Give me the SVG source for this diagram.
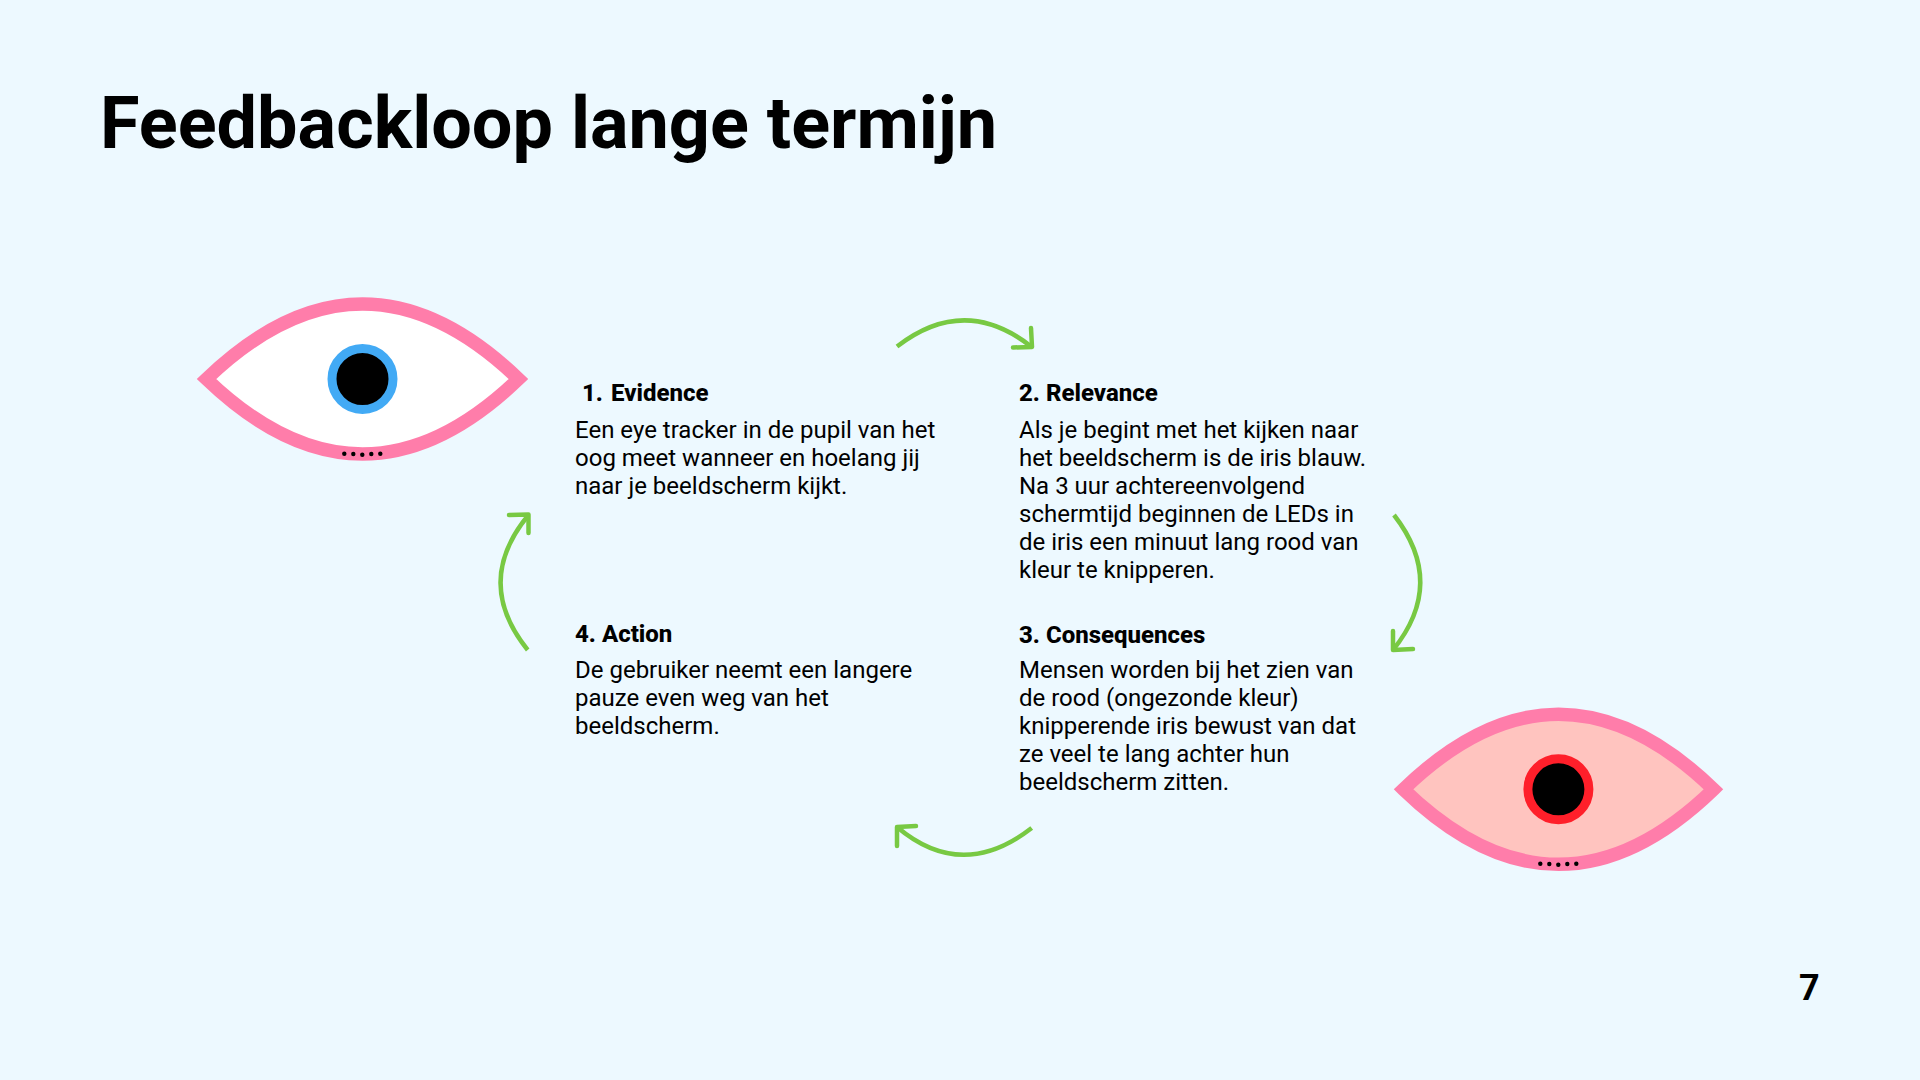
<svg xmlns="http://www.w3.org/2000/svg" width="1920" height="1080" viewBox="0 0 1920 1080">
<style>
text{font-family:Roboto,"Liberation Sans",sans-serif;fill:#000}
.t{font-size:72px;font-weight:700}
.h{font-size:24px;font-weight:800}
.b{font-size:24px}
.n{font-size:36px;font-weight:700}
.lid{stroke:#ff7daa;stroke-width:13.500;stroke-miterlimit:10}
.pupil{fill:#000;stroke-width:9}
.a{fill:none;stroke:#78c943;stroke-width:4.500;stroke-linejoin:round}
.h1{stroke-linecap:round}
</style>
<rect width="1920" height="1080" fill="#edf9ff"/>
<text class="t" x="100" y="147.500" textLength="897">Feedbackloop lange termijn</text>
<g id="eye-1">
<path class="lid" fill="#fff" d="M206.500 379Q362.500 229 518.500 379Q362.500 529 206.500 379Z"/>
<circle class="pupil" stroke="#42aaf5" cx="362.500" cy="379" r="30.500"/>
<g fill="#000"><circle cx="344.300" cy="453.700" r="2.200"/><circle cx="353.300" cy="454" r="2.200"/><circle cx="362.300" cy="454.700" r="2.200"/><circle cx="371.300" cy="454" r="2.200"/><circle cx="380.300" cy="453.700" r="2.200"/></g>
</g>
<g id="eye-2">
<path class="lid" fill="#ffc4bf" d="M1403.500 789.300Q1558.500 639.300 1713.500 789.300Q1558.500 939.300 1403.500 789.300Z"/>
<circle class="pupil" stroke="#ff1f2a" cx="1558.400" cy="789.300" r="30.500"/>
<g fill="#000"><circle cx="1540.300" cy="863.700" r="2.200"/><circle cx="1549.300" cy="864" r="2.200"/><circle cx="1558.300" cy="864.700" r="2.200"/><circle cx="1567.300" cy="864" r="2.200"/><circle cx="1576.300" cy="863.700" r="2.200"/></g>
</g>
<g id="connectors">
<path class="a" d="M897 346.500Q965 294 1031.700 347"/><path class="a h1" d="M1031 328L1032 347L1013 347.500"/>
<path class="a" d="M1394 515Q1447 583 1393 650"/><path class="a h1" d="M1393 631L1393 650L1413 649"/>
<path class="a" d="M527.700 650Q473 582 528.500 515"/><path class="a h1" d="M509 515L528.500 514.500L528.500 533"/>
<path class="a" d="M1031.700 828Q962 882 897 827"/><path class="a h1" d="M897 846L897 827L916 826"/>
</g>
<g id="step-1">
<text class="h" x="582" y="401">1.</text><text class="h" x="611" y="401">Evidence</text>
<text class="b" x="575" y="438">Een eye tracker in de pupil van het</text>
<text class="b" x="575" y="466">oog meet wanneer en hoelang jij</text>
<text class="b" x="575" y="494">naar je beeldscherm kijkt.</text>
</g>
<g id="step-2">
<text class="h" x="1019" y="401">2. Relevance</text>
<text class="b" x="1019" y="438">Als je begint met het kijken naar</text>
<text class="b" x="1019" y="466">het beeldscherm is de iris blauw.</text>
<text class="b" x="1019" y="494">Na 3 uur achtereenvolgend</text>
<text class="b" x="1019" y="522">schermtijd beginnen de LEDs in</text>
<text class="b" x="1019" y="550">de iris een minuut lang rood van</text>
<text class="b" x="1019" y="578">kleur te knipperen.</text>
</g>
<g id="step-3">
<text class="h" x="1019" y="643">3. Consequences</text>
<text class="b" x="1019" y="678">Mensen worden bij het zien van</text>
<text class="b" x="1019" y="706">de rood (ongezonde kleur)</text>
<text class="b" x="1019" y="734">knipperende iris bewust van dat</text>
<text class="b" x="1019" y="762">ze veel te lang achter hun</text>
<text class="b" x="1019" y="790">beeldscherm zitten.</text>
</g>
<g id="step-4">
<text class="h" x="575" y="642">4. Action</text>
<text class="b" x="575" y="678">De gebruiker neemt een langere</text>
<text class="b" x="575" y="706">pauze even weg van het</text>
<text class="b" x="575" y="734">beeldscherm.</text>
</g>
<text class="n" x="1799" y="1000">7</text>
</svg>
